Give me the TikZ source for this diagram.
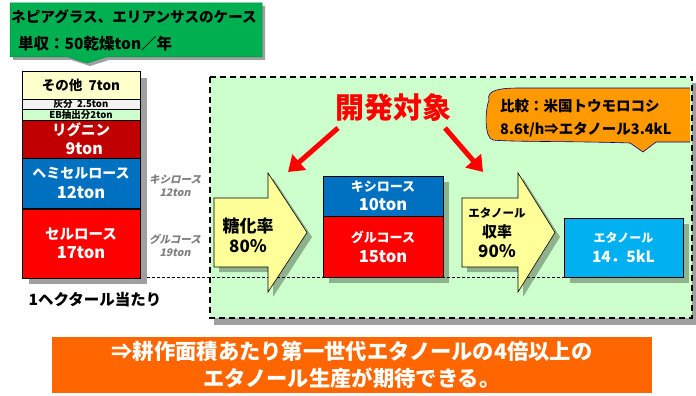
\documentclass[tikz,border=0pt]{standalone}
\usepackage{fontspec}
\setmainfont{Noto Sans CJK JP}
\newfontfamily\jpsl{Noto Sans CJK JP}[FakeSlant=0.22]
\usetikzlibrary{arrows.meta}
\definecolor{calloutgreen}{HTML}{00B050}
\definecolor{regiongreen}{HTML}{CCFFCC}
\definecolor{paleyellow}{HTML}{FFFFCC}
\definecolor{arrowyellow}{HTML}{FFFF99}
\definecolor{ashgray}{HTML}{F2F2F2}
\definecolor{darkred}{HTML}{C00000}
\definecolor{midblue}{HTML}{0070C0}
\definecolor{skyblue}{HTML}{00B0F0}
\definecolor{calloutorange}{HTML}{FF9900}
\definecolor{bottomorange}{HTML}{FF6600}
\definecolor{shadowgray}{HTML}{A0A0A0}
\definecolor{labelgray}{HTML}{7F7F7F}
\newcommand\fsz[2]{\fontsize{#1}{#2}\selectfont}
\begin{document}
\begin{tikzpicture}[x=1pt,y=-1pt,
  row/.style={draw=black, line width=0.6pt, minimum width=118pt, inner sep=0pt, align=center, font=\bfseries},
  boxstyle/.style={draw=black, line width=0.6pt, inner sep=0pt, align=center, font=\bfseries, text=white},
  shadowfill/.style={fill=black, opacity=0.3},
  txt/.style={inner sep=0pt, align=center, font=\bfseries},
  redarrow/.style={draw=red, line width=5pt, -{Triangle[length=15pt,width=20pt]}},
  bigarrow/.style={draw=black, line width=0.6pt, fill=arrowyellow}
]
\useasboundingbox (0,0) rectangle (696,396);

% green callout
\fill[shadowgray] (13,6) -- (265,6) -- (265,60) -- (109,60) -- (90,66) -- (71,60) -- (13,60) -- cycle;
\draw[fill=calloutgreen, draw=calloutgreen!80!black, line width=0.5pt]
  (10,3) -- (262,3) -- (262,57) -- (106,57) -- (87,63) -- (68,57) -- (10,57) -- cycle;
\node[txt, anchor=west, font=\bfseries\fsz{14.6}{16}] (title1) at (11,17) {ネピアグラス、エリアンサスのケース};
\node[txt, anchor=west, font=\bfseries\fsz{15.5}{17}] (title2) at (18,44) {単収：50乾燥ton／年};

% green region
\fill[shadowgray] (214,83) rectangle (696,325);
\draw[fill=regiongreen, dash pattern=on 6pt off 4pt, line width=1.6pt] (210,77) rectangle (692,318);

% dotted baseline
\draw[densely dashed, line width=0.6pt] (142,277) -- (627,277);

% stacked bar
\fill[shadowgray] (29,78) rectangle (147,284);
\node[row, fill=paleyellow, minimum height=28pt, font=\bfseries\fsz{13.5}{15}] (other) at (81,85) {その他\ \ 7ton};
\node[row, fill=ashgray, minimum height=10pt, font=\bfseries\fsz{9.5}{10}] (ash) at (81,104) {灰分\ \ 2.5ton};
\node[row, fill=regiongreen, minimum height=11pt, font=\bfseries\fsz{9.5}{10}] (eb) at (81,114.5) {EB抽出分2ton};
\node[row, fill=darkred, minimum height=38pt, text=white, font=\bfseries\fsz{14.5}{19}] (lignin) at (81,139) {リグニン\\\ \ \fsz{16}{19}9ton};
\node[row, fill=midblue, minimum height=50pt, text=white, font=\bfseries\fsz{14}{20}] (hemi) at (81,183) {ヘミセルロース\\\fsz{16.5}{20}12ton};
\node[row, fill=red, minimum height=69pt, text=white, font=\bfseries\fsz{14.5}{19}] (cell) at (81,243.5) {セルロース\\\fsz{16.5}{19}17ton};

\node[txt, text=labelgray, font=\jpsl\bfseries\fsz{10.5}{13}] (xylab) at (175,186) {キシロース\\12ton};
\node[txt, text=labelgray, font=\jpsl\bfseries\fsz{10.5}{13}] (gllab) at (175,245) {グルコース\\19ton};

\node[txt, font=\bfseries\fsz{15.5}{17}] (perha) at (95,300) {1ヘクタール当たり};

% development target
\node[txt, text=red, font=\bfseries\fsz{29}{32}] (dev) at (393,107) {開発対象};
\coordinate (la) at (338,128);
\coordinate (lb) at (288,172);
\coordinate (ra) at (445,128);
\coordinate (rb) at (483,172);
\draw[redarrow] (la) -- (lb);
\draw[redarrow] (ra) -- (rb);

% orange callout
\fill[calloutorange] (489,100) .. controls (486,90) and (500,88) .. (520,88) -- (690,88) -- (690,142)
  -- (656,142) -- (643,152) -- (630,143) .. controls (570,141) and (510,142) .. (493,140)
  .. controls (484,138) and (485,110) .. (489,100) -- cycle;
\draw[draw=blue!50!black, line width=0.6pt] (690,88) -- (520,88) .. controls (500,88) and (486,90) .. (489,100)
  .. controls (485,110) and (484,138) .. (493,140) .. controls (510,142) and (570,141) .. (630,143)
  -- (643,152) -- (656,142) -- (690,142);
\node[txt, anchor=west, align=left, font=\bfseries\fsz{14.5}{23}] (cmp) at (500,118.5) {比較：米国トウモロコシ\\8.6t/h⇒エタノール3.4kL};

% arrow 1
\fill[shadowfill] (219,203) -- (273,203) -- (273,178) -- (312,237) -- (273,297) -- (273,272) -- (219,272) -- cycle;
\draw[bigarrow] (214,198) -- (268,198) -- (268,173) -- (307,232.5) -- (268,292) -- (268,267) -- (214,267) -- cycle;
\node[txt, font=\bfseries\fsz{17}{20}] (sacch) at (248,235) {糖化率\\80％};

% xylose / glucose box
\fill[shadowfill] (329,182) rectangle (449,283);
\node[boxstyle, fill=midblue, minimum width=120pt, minimum height=40pt, font=\bfseries\fsz{13}{19}] (xyl) at (383,196) {キシロース\\\fsz{16.5}{19}10ton};
\node[boxstyle, fill=red, minimum width=120pt, minimum height=61pt, font=\bfseries\fsz{13}{20}] (glu) at (383,246.5) {グルコース\\\fsz{16.5}{20}15ton};

% arrow 2
\fill[shadowfill] (467,203) -- (523,203) -- (523,178) -- (560,237) -- (523,297) -- (523,272) -- (467,272) -- cycle;
\draw[bigarrow] (462,198) -- (518,198) -- (518,173) -- (555,232.5) -- (518,292) -- (518,267) -- (462,267) -- cycle;
\node[txt, font=\bfseries\fsz{11.5}{20}] (yield) at (497,233) {エタノール\\\fsz{15}{20}収率\\\fsz{17}{20}90％};

% ethanol box
\fill[shadowfill] (570,224) rectangle (689,283);
\node[boxstyle, fill=skyblue, minimum width=119pt, minimum height=59pt, font=\bfseries\fsz{12}{20}] (eth) at (623.5,247.5) {エタノール\\\fsz{15.5}{20}14．5kL};

% bottom conclusion
\node[boxstyle, fill=bottomorange, draw=none, minimum width=600pt, minimum height=56pt, font=\bfseries\fsz{21.3}{27}] (concl) at (352,365) {⇒耕作面積あたり第一世代エタノールの4倍以上の\\エタノール生産が期待できる。};
\end{tikzpicture}
\end{document}
